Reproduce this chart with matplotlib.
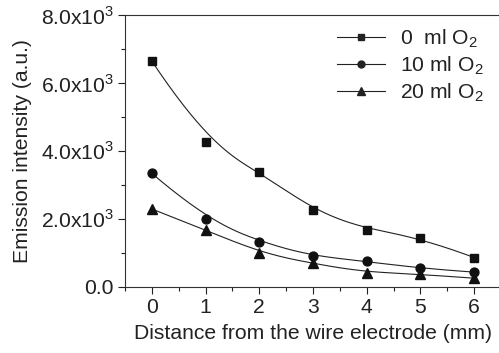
import numpy as np
import matplotlib
matplotlib.use("Agg")
import matplotlib.pyplot as plt
from matplotlib.ticker import MultipleLocator, FuncFormatter

plt.rcParams['font.family'] = ['Liberation Sans', 'DejaVu Sans']
plt.rcParams['mathtext.fontset'] = 'custom'
plt.rcParams['mathtext.rm'] = 'Liberation Sans'

distance = [0, 1, 2, 3, 4, 5, 6]
o2_0 = [6650, 4270, 3390, 2260, 1670, 1450, 860]
o2_10 = [3340, 1990, 1320, 900, 750, 540, 430]
o2_20 = [2290, 1670, 990, 690, 410, 370, 250]
labels = ['0  ml O$_2$', '10 ml O$_2$', '20 ml O$_2$']
markers = ['s', 'o', '^']

FS = 15.2


def bspline(xs, ys, n=300, k=3):
    """Clamped uniform B-spline using the data points as control points."""
    P = np.column_stack([xs, ys]).astype(float)
    m = len(P)
    inner = np.arange(1, m - k)
    knots = np.concatenate([np.zeros(k + 1), inner, np.full(k + 1, m - k)]).astype(float)
    t = np.linspace(0, m - k, n)
    t[-1] -= 1e-9

    def basis(i, d, tt):
        if d == 0:
            return ((knots[i] <= tt) & (tt < knots[i + 1])).astype(float)
        out = np.zeros_like(tt)
        den1 = knots[i + d] - knots[i]
        den2 = knots[i + d + 1] - knots[i + 1]
        if den1 > 0:
            out += (tt - knots[i]) / den1 * basis(i, d - 1, tt)
        if den2 > 0:
            out += (knots[i + d + 1] - tt) / den2 * basis(i + 1, d - 1, tt)
        return out

    B = np.array([basis(i, k, t) for i in range(m)])
    C = B.T @ P
    return C[:, 0], C[:, 1]


fig = plt.figure(figsize=(4.99, 3.53), dpi=100)
ax = fig.add_axes([125 / 499, (353 - 286.7) / 353, (501 - 125) / 499, (286.7 - 15.3) / 353])

for ys, mk, lab in zip([o2_0, o2_10, o2_20], markers, labels):
    cx, cy = bspline(distance, ys)
    ax.plot(cx, cy, color='#222222', lw=0.8)
    ms = 7.0 if mk == '^' else 6.4
    ax.plot(distance, ys, linestyle='none', marker=mk, color='#111111', ms=ms)
    ax.plot([], [], color='#222222', lw=0.8, marker=mk, ms=ms * 0.78, label=lab)

ax.set_xlim(-0.5, 6.5)
ax.set_ylim(0, 8000)
ax.xaxis.set_major_locator(MultipleLocator(1))
ax.xaxis.set_minor_locator(MultipleLocator(0.5))
ax.yaxis.set_major_locator(MultipleLocator(2000))
ax.yaxis.set_minor_locator(MultipleLocator(1000))


def yfmt(v, pos):
    if v == 0:
        return '0.0'
    return '%.1fx10$^{3}$' % (v / 1000)


ax.yaxis.set_major_formatter(FuncFormatter(yfmt))
ax.tick_params(axis='both', which='major', direction='out', length=5, width=0.8,
               labelsize=FS, color='#222222', labelcolor='#222222', pad=3)
ax.tick_params(axis='both', which='minor', direction='out', length=3, width=0.8, color='#222222')
ax.spines['right'].set_visible(False)
for s in ['left', 'bottom', 'top']:
    ax.spines[s].set_linewidth(0.8)
    ax.spines[s].set_color('#333333')

ax.set_xlabel('Distance from the wire electrode (mm)', fontsize=FS, color='#222222', labelpad=5)
ax.set_ylabel('Emission intensity (a.u.)', fontsize=FS, color='#222222', labelpad=6)

leg = ax.legend(loc='upper right', bbox_to_anchor=(0.985, 1.0), frameon=False, fontsize=FS,
                handlelength=2.3, handletextpad=0.7, labelspacing=0.22, borderaxespad=0.15)
for t in leg.get_texts():
    t.set_color('#222222')

fig.savefig('out.png', dpi=100)
